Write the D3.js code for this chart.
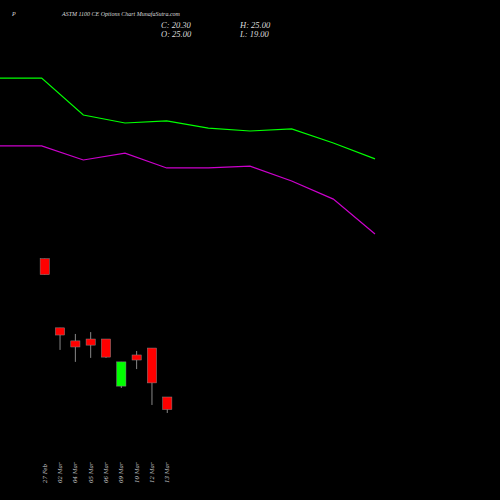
<!DOCTYPE html>
<html>
<head>
<meta charset="utf-8">
<script src="https://cdn.jsdelivr.net/npm/d3@7"></script>
<style>
  body { margin: 0; background: #000; }
  svg { display: block; }
</style>
</head>
<body>
<script>
// candles
var dates = ['27 Feb', '02 Mar', '04 Mar', '05 Mar', '06 Mar', '09 Mar', '10 Mar', '12 Mar', '13 Mar'];
var opens = [77, 51, 46.1, 46.8, 46.8, 29.1, 40.8, 43.4, 25];
var highs = [77, 51, 48.7, 49.4, 46.8, 38.2, 42.3, 43.4, 25];
var lows = [71, 42.7, 38.2, 39.7, 39.7, 28.4, 35.5, 22, 19];
var closes = [71, 48.3, 43.8, 44.5, 40, 38.2, 38.9, 30.3, 20.3];

// averages
var greenLine = [144.9, 144.9, 131.0, 128.0, 128.8, 126.1, 125.0, 125.8, 120.5, 114.5];
var purpleLine = [119.4, 119.4, 114.1, 116.7, 111.1, 111.1, 111.8, 106.2, 99.4, 86.3];

var W = 500, H = 500;
var svg = d3.select('body').append('svg').attr('width', W).attr('height', H)
  .style('background', '#000');

var y = d3.scaleLinear().domain([0, 150]).range([463.5, 64.5]);
var x = d3.scaleBand().domain(dates).range([34, 178]).padding(0.4);
var xl = d3.scaleLinear().domain([0, 9]).range([0, 375]);

var line = d3.line().x(function(d, i) { return xl(i); }).y(function(d) { return y(d); });
svg.append('path').datum(greenLine).attr('d', line)
  .attr('fill', 'none').attr('stroke', '#00ff00').attr('stroke-width', 1.2);
svg.append('path').datum(purpleLine).attr('d', line)
  .attr('fill', 'none').attr('stroke', '#cc00cc').attr('stroke-width', 1.2);

var candles = svg.selectAll('g.c').data(dates).enter().append('g');
candles.append('line')
  .attr('x1', function(d) { return x(d) + x.bandwidth() / 2; })
  .attr('x2', function(d) { return x(d) + x.bandwidth() / 2; })
  .attr('y1', function(d, i) { return y(highs[i]); })
  .attr('y2', function(d, i) { return y(lows[i]); })
  .attr('stroke', '#888');
candles.append('rect')
  .attr('x', function(d) { return x(d); })
  .attr('width', x.bandwidth())
  .attr('y', function(d, i) { return y(Math.max(opens[i], closes[i])); })
  .attr('height', function(d, i) { return Math.max(1, Math.abs(y(opens[i]) - y(closes[i]))); })
  .attr('fill', function(d, i) { return closes[i] >= opens[i] ? '#00ff00' : '#ff0000'; })
  .attr('stroke', '#888').attr('stroke-width', 0.5);

svg.selectAll('text.d').data(dates).enter().append('text')
  .attr('transform', function(d) { return 'translate(' + (x(d) + x.bandwidth() / 2 + 2) + ',483) rotate(-90)'; })
  .attr('text-anchor', 'start')
  .attr('fill', '#ccc').attr('font-family', 'DejaVu Serif').attr('font-style', 'italic')
  .attr('font-size', 5.5).text(function(d) { return d; });

var font = 'Liberation Serif';
svg.append('text').attr('x', 12).attr('y', 16).attr('fill', '#ddd')
  .attr('font-family', font).attr('font-style', 'italic').attr('font-size', 6).text('P');
svg.append('text').attr('x', 62).attr('y', 16).attr('fill', '#ddd')
  .attr('font-family', font).attr('font-style', 'italic').attr('font-size', 6)
  .text('ASTM 1100  CE Options  Chart MunafaSutra.com');
[['C: 20.30', 161, 28], ['O: 25.00', 161, 37], ['H: 25.00', 240, 28], ['L: 19.00', 240, 37]].forEach(function(t) {
  svg.append('text').attr('x', t[1]).attr('y', t[2]).attr('fill', '#ddd')
    .attr('font-family', font).attr('font-style', 'italic').attr('font-size', 8.5).text(t[0]);
});
</script>
</body>
</html>
